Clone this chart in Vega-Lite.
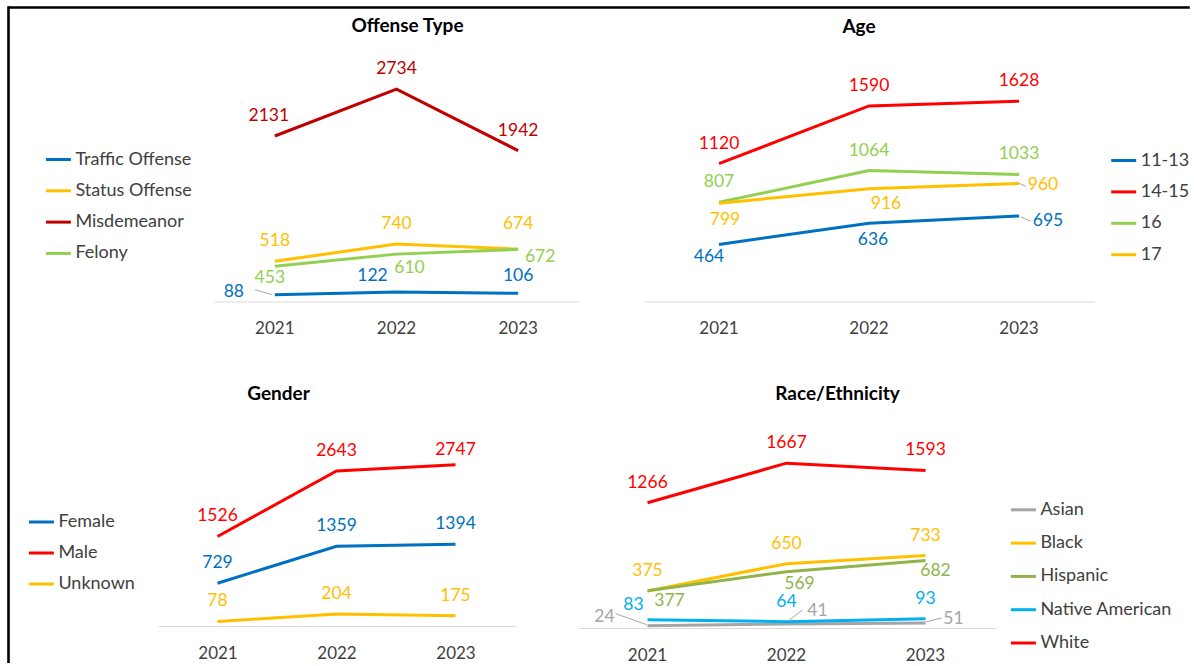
{
  "$schema": "https://vega.github.io/schema/vega-lite/v6.json",
  "padding": {"left": 8, "top": 7, "right": 0, "bottom": 0},
  "background": "white",
  "datasets": {
    "offense": [
      {"series": "Traffic Offense", "year": "2021", "value": 88},
      {"series": "Traffic Offense", "year": "2022", "value": 122},
      {"series": "Traffic Offense", "year": "2023", "value": 106},
      {"series": "Status Offense", "year": "2021", "value": 518},
      {"series": "Status Offense", "year": "2022", "value": 740},
      {"series": "Status Offense", "year": "2023", "value": 674},
      {"series": "Misdemeanor", "year": "2021", "value": 2131},
      {"series": "Misdemeanor", "year": "2022", "value": 2734},
      {"series": "Misdemeanor", "year": "2023", "value": 1942},
      {"series": "Felony", "year": "2021", "value": 453},
      {"series": "Felony", "year": "2022", "value": 610},
      {"series": "Felony", "year": "2023", "value": 672}
    ],
    "age": [
      {"series": "11-13", "year": "2021", "value": 464},
      {"series": "11-13", "year": "2022", "value": 636},
      {"series": "11-13", "year": "2023", "value": 695},
      {"series": "14-15", "year": "2021", "value": 1120},
      {"series": "14-15", "year": "2022", "value": 1590},
      {"series": "14-15", "year": "2023", "value": 1628},
      {"series": "16", "year": "2021", "value": 807},
      {"series": "16", "year": "2022", "value": 1064},
      {"series": "16", "year": "2023", "value": 1033},
      {"series": "17", "year": "2021", "value": 799},
      {"series": "17", "year": "2022", "value": 916},
      {"series": "17", "year": "2023", "value": 960}
    ],
    "gender": [
      {"series": "Female", "year": "2021", "value": 729},
      {"series": "Female", "year": "2022", "value": 1359},
      {"series": "Female", "year": "2023", "value": 1394},
      {"series": "Male", "year": "2021", "value": 1526},
      {"series": "Male", "year": "2022", "value": 2643},
      {"series": "Male", "year": "2023", "value": 2747},
      {"series": "Unknown", "year": "2021", "value": 78},
      {"series": "Unknown", "year": "2022", "value": 204},
      {"series": "Unknown", "year": "2023", "value": 175}
    ],
    "race": [
      {"series": "Asian", "year": "2021", "value": 24},
      {"series": "Asian", "year": "2022", "value": 41},
      {"series": "Asian", "year": "2023", "value": 51},
      {"series": "Black", "year": "2021", "value": 375},
      {"series": "Black", "year": "2022", "value": 650},
      {"series": "Black", "year": "2023", "value": 733},
      {"series": "Hispanic", "year": "2021", "value": 377},
      {"series": "Hispanic", "year": "2022", "value": 569},
      {"series": "Hispanic", "year": "2023", "value": 682},
      {"series": "Native American", "year": "2021", "value": 83},
      {"series": "Native American", "year": "2022", "value": 64},
      {"series": "Native American", "year": "2023", "value": 93},
      {"series": "White", "year": "2021", "value": 1266},
      {"series": "White", "year": "2022", "value": 1667},
      {"series": "White", "year": "2023", "value": 1593}
    ]
  },
  "config": {
    "font": "Lato",
    "view": {"stroke": null},
    "axisX": {"domainColor": "#D9D9D9", "domainWidth": 1, "ticks": false, "tickSize": 0, "labelPadding": 19, "labelFontSize": 17, "labelColor": "#404040", "labelAngle": 0, "grid": false, "title": null},
    "legend": {"orient": "none", "symbolType": "stroke", "symbolSize": 625, "symbolStrokeWidth": 3, "labelFontSize": 18, "labelColor": "#404040", "labelOffset": 3, "padding": 0, "labelLimit": 300},
    "title": {"fontSize": 19, "fontWeight": "bold", "color": "#000000", "frame": "group", "anchor": "middle"},
    "text": {"fontSize": 17.5, "baseline": "middle", "align": "center"},
    "line": {"strokeWidth": 3}
  },
  "resolve": {"scale": {"color": "independent"}, "legend": {"color": "independent"}},
  "spacing": 0,
  "hconcat": [
    {
      "width": 1, "height": 655,
      "data": {"values": []},
      "mark": {"type": "point", "opacity": 0},
      "encoding": {
        "y": {"field": "f", "type": "quantitative", "scale": {"domain": [0, 1]}, "axis": {"orient": "left", "domainColor": "#000000", "domainWidth": 2.6, "domainCap": "square", "ticks": false, "labels": false, "grid": false, "title": null}}
      }
    },
    {
      "resolve": {"scale": {"color": "independent"}, "legend": {"color": "independent"}},
      "spacing": 8.5,
      "vconcat": [
        {
          "width": 1179, "height": 1,
          "data": {"values": []},
          "mark": {"type": "point", "opacity": 0},
          "encoding": {
            "x": {"field": "f", "type": "quantitative", "scale": {"domain": [0, 1]}, "axis": {"orient": "top", "domainColor": "#000000", "domainWidth": 2.6, "domainCap": "square", "ticks": false, "labels": false, "grid": false, "title": null}}
          }
        },
        {
          "resolve": {"scale": {"color": "independent"}, "legend": {"color": "independent"}},
          "spacing": 15.5,
          "vconcat": [
            {
              "resolve": {"scale": {"color": "independent"}, "legend": {"color": "independent"}},
              "bounds": "flush",
              "spacing": 65,
              "hconcat": [
                {"width": 139.5, "height": 300, "data": {"values": []}, "mark": {"type": "point", "opacity": 0}},
                {
                  "width": 365, "height": 233,
                  "title": {"text": "Offense Type", "dx": 11, "offset": 24.5},
                  "data": {"name": "offense"},
                  "encoding": {
                    "x": {"field": "year", "type": "ordinal"},
                    "y": {"field": "value", "type": "quantitative", "scale": {"domain": [0, 3000], "nice": false}, "axis": null}
                  },
                  "layer": [
                    {"mark": {"type": "line", "strokeWidth": 3}, "encoding": {"color": {"field": "series", "type": "nominal", "title": null, "scale": {"domain": ["Traffic Offense", "Status Offense", "Misdemeanor", "Felony"], "range": ["#0070C0", "#FFC000", "#C00000", "#92D050"]}, "legend": {"legendX": -169.6, "legendY": 77, "rowPadding": 8.3}}}},
                    {"transform": [{"filter": "datum.series==='Traffic Offense' && datum.year==='2021'"}], "mark": {"type": "rule", "color": "#A6A6A6", "strokeWidth": 1, "xOffset": -20, "yOffset": -5, "x2Offset": -3, "y2Offset": 0}, "encoding": {"x2": {"field": "year"}, "y2": {"field": "value"}}},
                    {"transform": [{"filter": "(datum.series==='Misdemeanor' && datum.year!=='2021') || (datum.series==='Status Offense' && datum.year!=='2023')"}], "mark": {"type": "text", "dy": -20}, "encoding": {"text": {"field": "value", "type": "quantitative", "format": "d"}, "color": {"field": "series", "type": "nominal", "legend": null}}},
                    {"transform": [{"filter": "datum.series==='Misdemeanor' && datum.year==='2021'"}], "mark": {"type": "text", "dx": -6, "dy": -20}, "encoding": {"text": {"field": "value", "type": "quantitative", "format": "d"}, "color": {"field": "series", "type": "nominal", "legend": null}}},
                    {"transform": [{"filter": "datum.series==='Status Offense' && datum.year==='2023'"}], "mark": {"type": "text", "dy": -25}, "encoding": {"text": {"field": "value", "type": "quantitative", "format": "d"}, "color": {"field": "series", "type": "nominal", "legend": null}}},
                    {"transform": [{"filter": "datum.series==='Traffic Offense' && datum.year==='2023'"}], "mark": {"type": "text", "dy": -17}, "encoding": {"text": {"field": "value", "type": "quantitative", "format": "d"}, "color": {"field": "series", "type": "nominal", "legend": null}}},
                    {"transform": [{"filter": "datum.series==='Traffic Offense' && datum.year==='2022'"}], "mark": {"type": "text", "dx": -24, "dy": -16}, "encoding": {"text": {"field": "value", "type": "quantitative", "format": "d"}, "color": {"field": "series", "type": "nominal", "legend": null}}},
                    {"transform": [{"filter": "datum.series==='Traffic Offense' && datum.year==='2021'"}], "mark": {"type": "text", "dx": -41, "dy": -3}, "encoding": {"text": {"field": "value", "type": "quantitative", "format": "d"}, "color": {"field": "series", "type": "nominal", "legend": null}}},
                    {"transform": [{"filter": "datum.series==='Felony' && datum.year==='2021'"}], "mark": {"type": "text", "dx": -5, "dy": 12}, "encoding": {"text": {"field": "value", "type": "quantitative", "format": "d"}, "color": {"field": "series", "type": "nominal", "legend": null}}},
                    {"transform": [{"filter": "datum.series==='Felony' && datum.year==='2022'"}], "mark": {"type": "text", "dx": 13, "dy": 14}, "encoding": {"text": {"field": "value", "type": "quantitative", "format": "d"}, "color": {"field": "series", "type": "nominal", "legend": null}}},
                    {"transform": [{"filter": "datum.series==='Felony' && datum.year==='2023'"}], "mark": {"type": "text", "dx": 22, "dy": 8}, "encoding": {"text": {"field": "value", "type": "quantitative", "format": "d"}, "color": {"field": "series", "type": "nominal", "legend": null}}}
                  ]
                },
                {
                  "width": 450, "height": 233,
                  "title": {"text": "Age", "dx": -10, "offset": 31.5},
                  "data": {"name": "age"},
                  "encoding": {
                    "x": {"field": "year", "type": "ordinal"},
                    "y": {"field": "value", "type": "quantitative", "scale": {"domain": [0, 1894], "nice": false}, "axis": null}
                  },
                  "layer": [
                    {"mark": {"type": "line", "strokeWidth": 3}, "encoding": {"color": {"field": "series", "type": "nominal", "title": null, "scale": {"domain": ["11-13", "14-15", "16", "17"], "range": ["#0070C0", "#FF0000", "#92D050", "#FFC000"]}, "legend": {"legendX": 465.7, "legendY": 78, "rowPadding": 8.4}}}},
                    {"transform": [{"filter": "datum.series==='17' && datum.year==='2023'"}], "mark": {"type": "rule", "color": "#A6A6A6", "strokeWidth": 1, "xOffset": 0, "yOffset": 0, "x2Offset": 7, "y2Offset": 3}, "encoding": {"x2": {"field": "year"}, "y2": {"field": "value"}}},
                    {"transform": [{"filter": "datum.series==='11-13' && datum.year==='2023'"}], "mark": {"type": "rule", "color": "#A6A6A6", "strokeWidth": 1, "xOffset": 2, "yOffset": 1, "x2Offset": 11, "y2Offset": 5}, "encoding": {"x2": {"field": "year"}, "y2": {"field": "value"}}},
                    {"transform": [{"filter": "datum.series==='14-15' || datum.series==='16'"}], "mark": {"type": "text", "dy": -20}, "encoding": {"text": {"field": "value", "type": "quantitative", "format": "d"}, "color": {"field": "series", "type": "nominal", "legend": null}}},
                    {"transform": [{"filter": "datum.series==='17' && datum.year==='2021'"}], "mark": {"type": "text", "dx": 6, "dy": 17}, "encoding": {"text": {"field": "value", "type": "quantitative", "format": "d"}, "color": {"field": "series", "type": "nominal", "legend": null}}},
                    {"transform": [{"filter": "datum.series==='17' && datum.year==='2022'"}], "mark": {"type": "text", "dx": 17, "dy": 15}, "encoding": {"text": {"field": "value", "type": "quantitative", "format": "d"}, "color": {"field": "series", "type": "nominal", "legend": null}}},
                    {"transform": [{"filter": "datum.series==='17' && datum.year==='2023'"}], "mark": {"type": "text", "dx": 24, "dy": 2}, "encoding": {"text": {"field": "value", "type": "quantitative", "format": "d"}, "color": {"field": "series", "type": "nominal", "legend": null}}},
                    {"transform": [{"filter": "datum.series==='11-13' && datum.year==='2021'"}], "mark": {"type": "text", "dx": -10, "dy": 13}, "encoding": {"text": {"field": "value", "type": "quantitative", "format": "d"}, "color": {"field": "series", "type": "nominal", "legend": null}}},
                    {"transform": [{"filter": "datum.series==='11-13' && datum.year==='2022'"}], "mark": {"type": "text", "dx": 4, "dy": 17}, "encoding": {"text": {"field": "value", "type": "quantitative", "format": "d"}, "color": {"field": "series", "type": "nominal", "legend": null}}},
                    {"transform": [{"filter": "datum.series==='11-13' && datum.year==='2023'"}], "mark": {"type": "text", "dx": 29, "dy": 5}, "encoding": {"text": {"field": "value", "type": "quantitative", "format": "d"}, "color": {"field": "series", "type": "nominal", "legend": null}}}
                  ]
                }
              ]
            },
            {
              "resolve": {"scale": {"color": "independent"}, "legend": {"color": "independent"}},
              "bounds": "flush",
              "spacing": 63,
              "hconcat": [
                {"width": 85.5, "height": 1, "data": {"values": []}, "mark": {"type": "point", "opacity": 0}},
                {
                  "width": 357, "height": 176,
                  "title": {"text": "Gender", "dx": -58, "offset": 37},
                  "data": {"name": "gender"},
                  "encoding": {
                    "x": {"field": "year", "type": "ordinal"},
                    "y": {"field": "value", "type": "quantitative", "scale": {"domain": [0, 3000], "nice": false}, "axis": null}
                  },
                  "layer": [
                    {"mark": {"type": "line", "strokeWidth": 3}, "encoding": {"color": {"field": "series", "type": "nominal", "title": null, "scale": {"domain": ["Female", "Male", "Unknown"], "range": ["#0070C0", "#FF0000", "#FFC000"]}, "legend": {"legendX": -130.6, "legendY": 58, "rowPadding": 8}}}},
                    {"transform": [{"filter": "!(datum.series==='Male' && datum.year==='2023')"}], "mark": {"type": "text", "dy": -20}, "encoding": {"text": {"field": "value", "type": "quantitative", "format": "d"}, "color": {"field": "series", "type": "nominal", "legend": null}}},
                    {"transform": [{"filter": "datum.series==='Male' && datum.year==='2023'"}], "mark": {"type": "text", "dy": -15}, "encoding": {"text": {"field": "value", "type": "quantitative", "format": "d"}, "color": {"field": "series", "type": "nominal", "legend": null}}}
                  ]
                },
                {
                  "width": 417, "height": 178,
                  "title": {"text": "Race/Ethnicity", "dx": 51, "offset": 30.4},
                  "data": {"name": "race"},
                  "encoding": {
                    "x": {"field": "year", "type": "ordinal"},
                    "y": {"field": "value", "type": "quantitative", "scale": {"domain": [0, 1800], "nice": false}, "axis": null}
                  },
                  "layer": [
                    {"mark": {"type": "line", "strokeWidth": 3}, "encoding": {"color": {"field": "series", "type": "nominal", "title": null, "scale": {"domain": ["Asian", "Black", "Hispanic", "Native American", "White"], "range": ["#A5A5A5", "#FFC000", "#90B44B", "#00B0F0", "#FF0000"]}, "legend": {"legendX": 431.4, "legendY": 45.8, "rowPadding": 10.3}}}},
                    {"transform": [{"filter": "datum.series==='Asian' && datum.year==='2021'"}], "mark": {"type": "rule", "color": "#A6A6A6", "strokeWidth": 1, "xOffset": -32, "yOffset": -12, "x2Offset": -1, "y2Offset": -1}, "encoding": {"x2": {"field": "year"}, "y2": {"field": "value"}}},
                    {"transform": [{"filter": "datum.series==='Asian' && datum.year==='2022'"}], "mark": {"type": "rule", "color": "#A6A6A6", "strokeWidth": 1, "xOffset": 3, "yOffset": -4, "x2Offset": 16, "y2Offset": -14}, "encoding": {"x2": {"field": "year"}, "y2": {"field": "value"}}},
                    {"transform": [{"filter": "datum.series==='Asian' && datum.year==='2023'"}], "mark": {"type": "rule", "color": "#A6A6A6", "strokeWidth": 1, "xOffset": 0, "yOffset": -1, "x2Offset": 16, "y2Offset": -5}, "encoding": {"x2": {"field": "year"}, "y2": {"field": "value"}}},
                    {"transform": [{"filter": "datum.series==='White' || datum.series==='Black' || (datum.series==='Native American' && datum.year!=='2021')"}], "mark": {"type": "text", "dy": -20}, "encoding": {"text": {"field": "value", "type": "quantitative", "format": "d"}, "color": {"field": "series", "type": "nominal", "legend": null}}},
                    {"transform": [{"filter": "datum.series==='Native American' && datum.year==='2021'"}], "mark": {"type": "text", "dx": -14, "dy": -15}, "encoding": {"text": {"field": "value", "type": "quantitative", "format": "d"}, "color": {"field": "series", "type": "nominal", "legend": null}}},
                    {"transform": [{"filter": "datum.series==='Hispanic' && datum.year==='2021'"}], "mark": {"type": "text", "dx": 22, "dy": 10}, "encoding": {"text": {"field": "value", "type": "quantitative", "format": "d"}, "color": {"field": "series", "type": "nominal", "legend": null}}},
                    {"transform": [{"filter": "datum.series==='Hispanic' && datum.year==='2022'"}], "mark": {"type": "text", "dx": 13, "dy": 12}, "encoding": {"text": {"field": "value", "type": "quantitative", "format": "d"}, "color": {"field": "series", "type": "nominal", "legend": null}}},
                    {"transform": [{"filter": "datum.series==='Hispanic' && datum.year==='2023'"}], "mark": {"type": "text", "dx": 10, "dy": 10}, "encoding": {"text": {"field": "value", "type": "quantitative", "format": "d"}, "color": {"field": "series", "type": "nominal", "legend": null}}},
                    {"transform": [{"filter": "datum.series==='Asian' && datum.year==='2021'"}], "mark": {"type": "text", "dx": -43, "dy": -9}, "encoding": {"text": {"field": "value", "type": "quantitative", "format": "d"}, "color": {"field": "series", "type": "nominal", "legend": null}}},
                    {"transform": [{"filter": "datum.series==='Asian' && datum.year==='2022'"}], "mark": {"type": "text", "dx": 31, "dy": -13}, "encoding": {"text": {"field": "value", "type": "quantitative", "format": "d"}, "color": {"field": "series", "type": "nominal", "legend": null}}},
                    {"transform": [{"filter": "datum.series==='Asian' && datum.year==='2023'"}], "mark": {"type": "text", "dx": 28, "dy": -4}, "encoding": {"text": {"field": "value", "type": "quantitative", "format": "d"}, "color": {"field": "series", "type": "nominal", "legend": null}}}
                  ]
                }
              ]
            }
          ]
        }
      ]
    }
  ]
}
